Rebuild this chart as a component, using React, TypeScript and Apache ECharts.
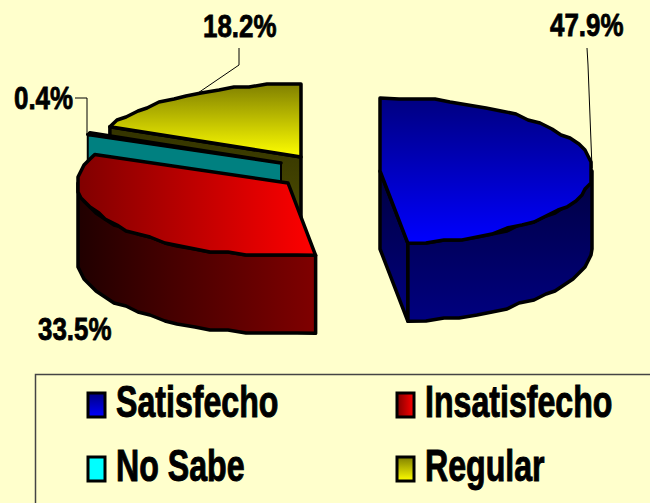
import React, { useEffect, useRef } from "react";
import * as echarts from "echarts";

const categories = ["Satisfecho", "Insatisfecho", "No Sabe", "Regular"];
const percentValues = [47.9, 33.5, 0.4, 18.2];

// Layout (not data)
const W = 650, H = 503;
const BG = "#FFFFCC";
const radiiX = [212, 210, 210, 210];
const RY = 73, DEPTH = 78;
const apexes = [[380, 171], [288, 183], [281, 163], [301, 157]];
const drawOrder = [3, 2, 1, 0];
const FONT = "Liberation Sans";
const labelPos = [[550, 25], [38, 329], [14, 98], [203, 26]];
const SNAP_Y = 3, SNAP_X = 3, ARC_STEP = 5;

const LG = (x2: number, y2: number, a: string, b: string) =>
  new echarts.graphic.LinearGradient(0, 0, x2, y2, [
    { offset: 0, color: a },
    { offset: 1, color: b },
  ]);

const total = percentValues.reduce((a, b) => a + b, 0);
const starts: number[] = [];
percentValues.reduce((acc, v, i) => {
  starts[i] = acc;
  return acc + (v / total) * 360;
}, 0);

function pt(idx: number, deg: number, dz = 0): number[] {
  const c = apexes[idx];
  const r = (deg * Math.PI) / 180;
  return [c[0] + radiiX[idx] * Math.sin(r), c[1] - RY * Math.cos(r) + dz];
}
function arc(idx: number, a: number, b: number, dz = 0): number[][] {
  const out: number[][] = [];
  const n = Math.max(2, Math.ceil(Math.abs(b - a) / ARC_STEP));
  for (let i = 0; i <= n; i++) {
    const p = pt(idx, a + ((b - a) * i) / n);
    const q = i === 0 || i === n ? p : [Math.round(p[0] / SNAP_X) * SNAP_X, Math.round(p[1] / SNAP_Y) * SNAP_Y];
    out.push([q[0], q[1] + dz]);
  }
  return out;
}

const stroke = { stroke: "#000", lineWidth: 3.5, lineJoin: "round" as const };
const poly = (points: number[][], fill: any) => ({
  type: "polygon",
  shape: { points },
  style: { fill, ...stroke },
});

function renderItem(params: any, api: any) {
  const idx = drawOrder[params.dataIndex];
  const value = api.value(0) as number;
  const a = starts[idx];
  const b = a + (value / total) * 360;
  const c = apexes[idx];
  const children: any[] = [];
  const top = [c, ...arc(idx, a, b)];
  const down = (p: number[]) => [p[0], p[1] + DEPTH];
  if (idx === 0) {
    const inner = [c, pt(idx, b), down(pt(idx, b)), down(c)];
    const wall = [...arc(idx, 90, b), ...arc(idx, b, 90, DEPTH)];
    children.push(poly(inner, LG(0, 1, "#000040", "#000080")));
    children.push(poly(wall, LG(0, 1, "#000040", "#000080")));
    children.push(poly(top, LG(0, 1, "#000080", "#0000FF")));
  } else if (idx === 1) {
    const wall = [...arc(idx, a, 270), ...arc(idx, 270, a, DEPTH)];
    children.push(poly(wall, LG(1, 0, "#200000", "#800000")));
    children.push(poly(top, LG(1, 0, "#800000", "#FF0000")));
  } else if (idx === 2) {
    const inner = [c, pt(idx, a), down(pt(idx, a)), down(c)];
    children.push({ type: "polygon", shape: { points: inner }, style: { fill: "#008080", stroke: "#000", lineWidth: 2 } });
    children.push(poly(top, "#00FFFF"));
  } else {
    const inner = [c, pt(idx, a), down(pt(idx, a)), down(c)];
    children.push(poly(inner, LG(0, 1, "#333300", "#505000")));
    children.push(poly(top, LG(0, 1, "#808000", "#FFFF00")));
  }
  return { type: "group", children };
}

const swatchFills = () => [
  LG(0, 1, "#000080", "#0000FF"),
  LG(1, 0, "#800000", "#FF0000"),
  "#00FFFF",
  LG(0, 1, "#808000", "#FFFF00"),
];
const legendCols = [88, 397];
const legendRows = [402, 466];
const legendTextX = [116, 425];
const legendScale = 0.73;

function legendElements() {
  const fills = swatchFills();
  const out: any[] = [
    {
      type: "rect",
      shape: { x: 35.5, y: 374.5, width: 640, height: 160 },
      style: { fill: "transparent", stroke: "#444", lineWidth: 1.5 },
    },
  ];
  categories.forEach((name, i) => {
    const col = i % 2, row = Math.floor(i / 2);
    out.push({
      type: "rect",
      shape: { x: legendCols[col], y: legendRows[row] - 9, width: 17, height: 24 },
      style: { fill: fills[i], stroke: "#000", lineWidth: 3 },
    });
    out.push({
      type: "text",
      x: legendTextX[col],
      y: legendRows[row],
      scaleX: legendScale,
      style: {
        text: name,
        fill: "#000",
        stroke: "#000",
        lineWidth: 1,
        font: `bold 44px "${FONT}"`,
        align: "left",
        verticalAlign: "middle",
      },
    });
  });
  return out;
}

function labelElements() {
  const out: any[] = percentValues.map((v, i) => ({
    type: "text",
    x: labelPos[i][0],
    y: labelPos[i][1],
    scaleX: 0.81,
    style: {
      text: `${v.toFixed(1)}%`,
      fill: "#000",
      stroke: "#000",
      lineWidth: 0.8,
      font: `bold 32px "${FONT}"`,
      align: "left",
      verticalAlign: "middle",
    },
  }));
  const leaders = [
    [[587, 48], [588, 65], [592, 168]],
    [[75, 98], [87, 98], [87, 135]],
    [[239, 48], [239, 65], [195, 95]],
  ];
  leaders.forEach((points) =>
    out.push({ type: "polyline", z: 10, shape: { points }, style: { fill: "none", stroke: "#000", lineWidth: 1 } })
  );
  return out;
}

export default function App() {
  const ref = useRef<HTMLDivElement>(null);
  useEffect(() => {
    document.body.style.margin = "0";
    const chart = echarts.init(ref.current!, undefined, { renderer: "svg" });
    chart.setOption({
      animation: false,
      backgroundColor: BG,
      series: [
        {
          type: "custom",
          coordinateSystem: "none",
          silent: true,
          renderItem,
          data: drawOrder.map((i) => ({ name: categories[i], value: [percentValues[i]] })),
        },
      ],
      graphic: { elements: [...labelElements(), ...legendElements()] },
    });
    return () => chart.dispose();
  }, []);
  return <div ref={ref} style={{ width: W, height: H }} />;
}
